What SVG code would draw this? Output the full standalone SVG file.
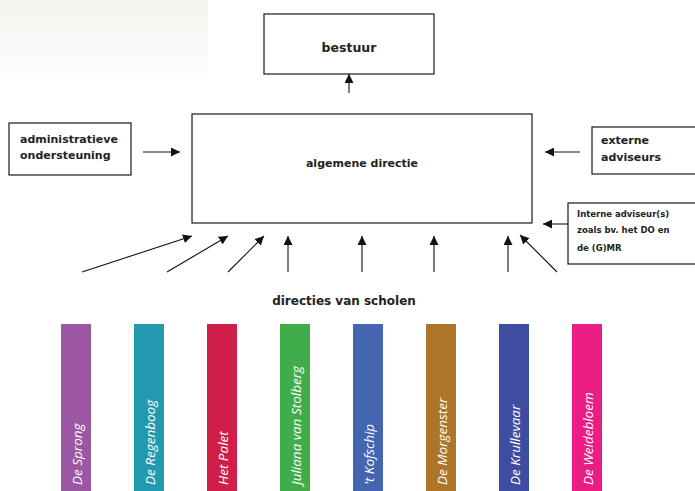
<svg xmlns="http://www.w3.org/2000/svg" width="695" height="491" viewBox="0 0 695 491">
<style>
.box{fill:#fff;stroke:#1a1a1a;stroke-width:1.2}
.lbl{font-family:"DejaVu Sans",Verdana,sans-serif;font-weight:bold;fill:#222}
.conn line{stroke:#111;stroke-width:1.1;fill:none}
.bar text{font-family:"Open Sans","Liberation Sans",sans-serif;font-style:italic;font-size:13.5px;fill:#fff}
</style>
<defs>
<marker id="ah" viewBox="0 0 10 10" refX="10" refY="5" markerWidth="9" markerHeight="9" markerUnits="userSpaceOnUse" orient="auto">
<path d="M0,0 L10,5 L0,10 z" fill="#111"/>
</marker>
<linearGradient id="fade" x1="0" y1="0" x2="0" y2="1">
<stop offset="0" stop-color="#f5f3ef"/>
<stop offset="1" stop-color="#fdfdfd"/>
</linearGradient>
</defs>
<rect width="695" height="491" fill="#fff"/>
<rect x="0" y="0" width="208" height="80" fill="url(#fade)"/>

<g id="bestuur">
<rect class="box" x="264" y="14" width="170" height="60"/>
<text class="lbl" x="349" y="52" font-size="12.5" text-anchor="middle">bestuur</text>
</g>
<g id="algemene-directie">
<rect class="box" x="192" y="114" width="340" height="109"/>
<text class="lbl" x="362" y="167" font-size="11" text-anchor="middle">algemene directie</text>
</g>
<g id="administratieve-ondersteuning">
<rect class="box" x="9" y="123" width="122" height="52"/>
<text class="lbl" x="20" y="143" font-size="11">administratieve</text>
<text class="lbl" x="20" y="159" font-size="11">ondersteuning</text>
</g>
<g id="externe-adviseurs">
<rect class="box" x="592" y="127" width="110" height="47"/>
<text class="lbl" x="601" y="144" font-size="11">externe</text>
<text class="lbl" x="601" y="161" font-size="11">adviseurs</text>
</g>
<g id="interne-adviseurs">
<rect class="box" x="568" y="203" width="140" height="61"/>
<text class="lbl" x="577" y="217" font-size="8.5">Interne adviseur(s)</text>
<text class="lbl" x="577" y="233" font-size="8.5">zoals bv. het DO en</text>
<text class="lbl" x="577" y="251" font-size="8.5">de (G)MR</text>
</g>
<g id="directies-van-scholen">
<text class="lbl" x="344" y="305" font-size="12" text-anchor="middle">directies van scholen</text>
</g>

<g class="conn" id="connectors">
<line x1="349" y1="93" x2="349" y2="74" marker-end="url(#ah)"/>
<line x1="143" y1="152" x2="180" y2="152" marker-end="url(#ah)"/>
<line x1="580" y1="152" x2="545" y2="152" marker-end="url(#ah)"/>
<line x1="568" y1="224" x2="543" y2="224" marker-end="url(#ah)"/>
<line x1="82" y1="272" x2="192" y2="236" marker-end="url(#ah)"/>
<line x1="167" y1="272" x2="228" y2="236" marker-end="url(#ah)"/>
<line x1="228" y1="272" x2="264" y2="236" marker-end="url(#ah)"/>
<line x1="288" y1="272" x2="288" y2="236" marker-end="url(#ah)"/>
<line x1="362" y1="272" x2="362" y2="236" marker-end="url(#ah)"/>
<line x1="434" y1="272" x2="434" y2="236" marker-end="url(#ah)"/>
<line x1="508" y1="272" x2="508" y2="236" marker-end="url(#ah)"/>
<line x1="557" y1="272" x2="520" y2="235" marker-end="url(#ah)"/>
</g>

<g class="bar" id="school-de-sprong"><rect x="61" y="324" width="30" height="167" fill="#9b57a4"/><text transform="translate(82,485) rotate(-90)">De Sprong</text></g>
<g class="bar" id="school-de-regenboog"><rect x="134" y="324" width="30" height="167" fill="#2299ae"/><text transform="translate(155,485) rotate(-90)">De Regenboog</text></g>
<g class="bar" id="school-het-palet"><rect x="207" y="324" width="30" height="167" fill="#d01e48"/><text transform="translate(228,485) rotate(-90)">Het Palet</text></g>
<g class="bar" id="school-juliana"><rect x="280" y="324" width="30" height="167" fill="#40ad4a"/><text transform="translate(301,485) rotate(-90)">Juliana van Stolberg</text></g>
<g class="bar" id="school-kofschip"><rect x="353" y="324" width="30" height="167" fill="#4465b0"/><text transform="translate(374,485) rotate(-90)">'t Kofschip</text></g>
<g class="bar" id="school-de-morgenster"><rect x="426" y="324" width="30" height="167" fill="#ad752a"/><text transform="translate(447,485) rotate(-90)">De Morgenster</text></g>
<g class="bar" id="school-de-krullevaar"><rect x="499" y="324" width="30" height="167" fill="#3f4da0"/><text transform="translate(520,485) rotate(-90)">De Krullevaar</text></g>
<g class="bar" id="school-de-weidebloem"><rect x="572" y="324" width="30" height="167" fill="#e91d84"/><text transform="translate(593,485) rotate(-90)">De Weidebloem</text></g>
</svg>
